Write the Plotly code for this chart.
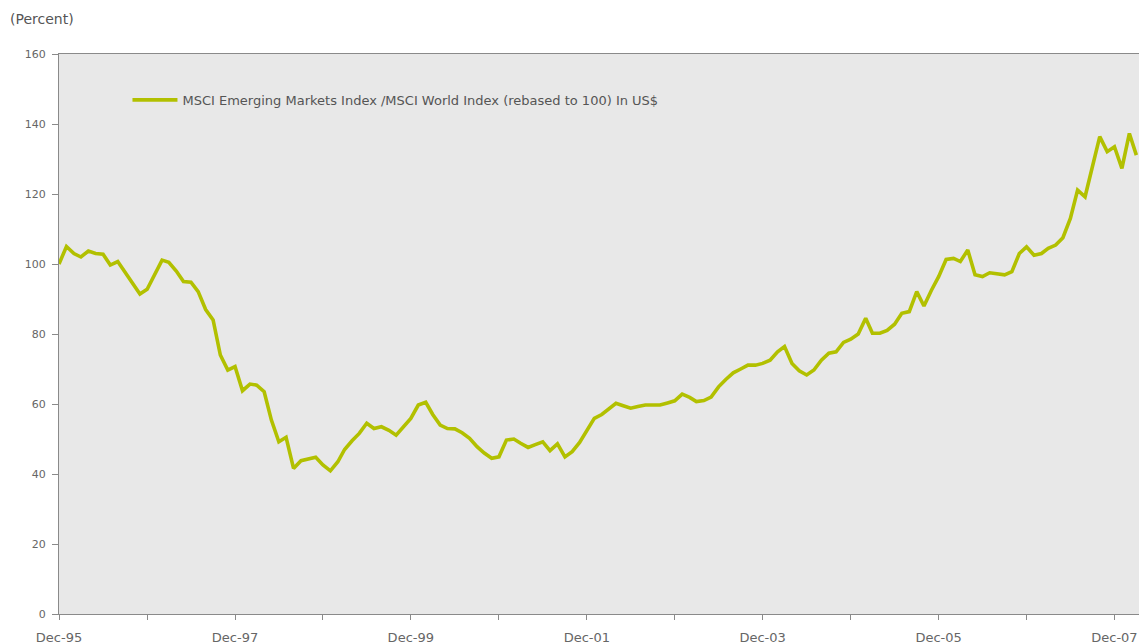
import pandas as pd
import plotly.graph_objects as go

start_month = "1995-12-01"
ratio_values = [
    100, 105, 103, 102, 103.7, 103, 102.8, 99.7, 100.7, 97.5, 94.5, 91.4,
    92.8, 97, 101.1, 100.5, 98, 95, 94.8, 92.1, 87, 84, 74, 69.7,
    70.7, 63.8, 65.7, 65.4, 63.5, 55.4, 49.2, 50.5, 41.6, 43.8, 44.3, 44.8,
    42.6, 40.9, 43.5, 47, 49.5, 51.6, 54.5, 53, 53.5, 52.5, 51.1, 53.5,
    55.9, 59.7, 60.5, 57, 54, 53, 52.9, 51.8, 50.2, 47.8, 46, 44.5,
    44.9, 49.7, 50, 48.8, 47.6, 48.4, 49.2, 46.7, 48.6, 44.9, 46.4, 49,
    52.5, 55.9, 57, 58.5, 60.2, 59.5, 58.8, 59.3, 59.7, 59.7, 59.7, 60.3,
    60.9, 62.8, 61.9, 60.7, 61, 62, 64.9, 67, 68.9, 70, 71.1, 71.1,
    71.6, 72.5, 74.9, 76.4, 71.6, 69.5, 68.3, 69.7, 72.5, 74.5, 74.9, 77.6,
    78.5, 80, 84.5, 80.2, 80.2, 81, 82.8, 85.9, 86.4, 92.1, 88, 92.5,
    96.4, 101.3, 101.6, 100.7, 104, 96.9, 96.4, 97.5, 97.2, 96.9, 97.8, 103,
    104.9, 102.5, 103, 104.5, 105.4, 107.5, 113, 121.1, 119.2, 127.8, 136.4, 132.1,
    133.5, 127.3, 137.3, 131.1,
]
series_name = "MSCI Emerging Markets Index /MSCI World Index (rebased to 100) In US$"
tick_dates = ["1995-12-01", "1996-12-01", "1997-12-01", "1998-12-01", "1999-12-01",
              "2000-12-01", "2001-12-01", "2002-12-01", "2003-12-01", "2004-12-01",
              "2005-12-01", "2006-12-01", "2007-12-01"]
tick_labels = ["Dec-95", "", "Dec-97", "", "Dec-99", "", "Dec-01", "", "Dec-03", "",
               "Dec-05", "", "Dec-07"]
y_ticks = [0, 20, 40, 60, 80, 100, 120, 140, 160]

dates = pd.date_range(start_month, periods=len(ratio_values), freq="MS")

fig = go.Figure()
fig.add_trace(go.Scatter(
    x=dates, y=ratio_values, mode="lines", name=series_name,
    line=dict(color="#b2c000", width=3.6),
    showlegend=True,
))

axis_grey = "#8a8a8a"

fig.update_layout(
    width=1139, height=644,
    margin=dict(l=59, r=0, t=54, b=30),
    paper_bgcolor="white",
    plot_bgcolor="#e8e8e8",
    showlegend=True,
    legend=dict(x=0.0634, y=0.918, xanchor="left", yanchor="middle",
                bgcolor="rgba(0,0,0,0)",
                font=dict(family="DejaVu Sans", size=13, color="#555555"),
                itemwidth=45),
    xaxis=dict(
        range=["1995-12-01", "2008-03-12"],
        tickmode="array", tickvals=tick_dates, ticktext=tick_labels,
        ticks="outside", ticklen=5, tickcolor=axis_grey, tickwidth=1,
        showline=True, linecolor=axis_grey, linewidth=1, mirror=True,
        showgrid=False, zeroline=False, ticklabelstandoff=6,
        tickfont=dict(family="DejaVu Sans", size=13, color="#666666"),
    ),
    yaxis=dict(
        range=[0, 160],
        tickmode="array", tickvals=y_ticks,
        ticks="outside", ticklen=6, tickcolor=axis_grey, tickwidth=1,
        showline=True, linecolor=axis_grey, linewidth=1,
        showgrid=False, zeroline=False, ticklabelstandoff=4,
        tickfont=dict(family="DejaVu Sans", size=11, color="#666666"),
    ),
    annotations=[dict(
        text="(Percent)", xref="paper", yref="paper", x=-0.047, y=1.045,
        xanchor="left", yanchor="bottom", showarrow=False,
        font=dict(family="DejaVu Sans", size=14, color="#555555"),
    )],
)

fig.write_html("out.html",
               config={"displayModeBar": False},
               post_script="document.body.style.margin='0';document.body.style.overflow='hidden';")
